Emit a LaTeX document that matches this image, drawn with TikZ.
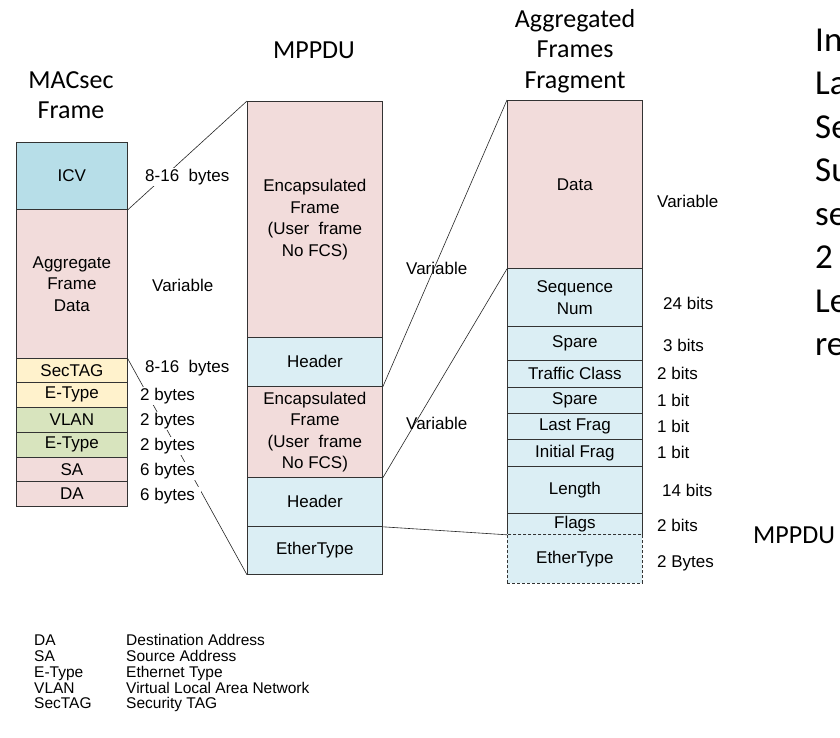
\documentclass[tikz,border=0pt]{standalone}
\usepackage{fontspec}
\setmainfont{Liberation Sans}
\newfontfamily\calibri{Carlito}

\definecolor{pinkfill}{RGB}{242,220,219}
\definecolor{bluefill}{RGB}{219,238,244}
\definecolor{icvfill}{RGB}{183,222,232}
\definecolor{yellowfill}{RGB}{255,242,204}
\definecolor{greenfill}{RGB}{216,228,190}

\newcommand\lbl{\fontsize{17}{21.5}\selectfont}
\newcommand\ttl{\calibri\fontsize{26}{30.5}\selectfont}

\tikzset{
  field/.style={draw=black!80, line width=0.8pt, anchor=north west, inner sep=0pt, align=center, font=\lbl},
  leftcol/.style={field, minimum width=111pt},
  widecol/.style={field, minimum width=135pt},
  link/.style={line width=0.6pt, black!85},
  sizelbl/.style={anchor=west, inner xsep=0pt, inner ysep=1pt, font=\lbl},
  sizecut/.style={sizelbl, fill=white, inner xsep=6pt},
  title/.style={align=center, font=\ttl},
  legend/.style={anchor=base west, inner sep=0pt, font=\fontsize{15.5}{18}\selectfont},
  bigtxt/.style={anchor=base west, inner sep=0pt, font=\calibri\fontsize{35}{42}\selectfont},
}

\begin{document}
\begin{tikzpicture}[x=1pt, y=-1pt]
  \useasboundingbox[fill=white] (0,0) rectangle (840,737);

  % column titles
  \node[title] (ttlmacsec) at (71,95) {MACsec\\Frame};
  \node[title] (ttlmppdu) at (314,50) {MPPDU};
  \node[title] (ttlagg) at (575,51) {Aggregated\\Frames\\Fragment};

  % MACsec frame
  \node[leftcol, fill=icvfill, minimum height=67pt] (icv) at (16,142) {ICV};
  \node[leftcol, fill=pinkfill, minimum height=149pt] (agg) at (16,209) {Aggregate\\Frame\\Data};
  \node[leftcol, fill=yellowfill, minimum height=24pt] (sectag) at (16,358) {SecTAG};
  \node[leftcol, fill=yellowfill, minimum height=25pt] (etypeA) at (16,382) {E-Type};
  \node[leftcol, fill=greenfill, minimum height=25pt] (vlan) at (16,407) {VLAN};
  \node[leftcol, fill=greenfill, minimum height=25pt] (etypeB) at (16,432) {E-Type};
  \node[leftcol, fill=pinkfill, minimum height=24pt] (sa) at (16,457) {SA};
  \node[leftcol, fill=pinkfill, minimum height=25pt] (da) at (16,481) {DA};

  % MPPDU
  \node[widecol, fill=pinkfill, minimum height=236pt] (encapA) at (247,101) {Encapsulated\\Frame\\(User~~frame\\No FCS)};
  \node[widecol, fill=bluefill, minimum height=49pt] (hdrA) at (247,337) {Header};
  \node[widecol, fill=pinkfill, minimum height=91pt] (encapB) at (247,386) {Encapsulated\\Frame\\(User~~frame\\No FCS)};
  \node[widecol, fill=bluefill, minimum height=49pt] (hdrB) at (247,477) {Header};
  \node[widecol, fill=bluefill, minimum height=48pt] (ethtype) at (247,526) {EtherType};

  % aggregated frames fragment
  \node[widecol, fill=pinkfill, minimum height=168pt] (data) at (507,100) {Data};
  \node[widecol, fill=bluefill, minimum height=58pt] (seqnum) at (507,268) {Sequence\\Num};
  \node[widecol, fill=bluefill, minimum height=34pt] (spareA) at (507,326) {Spare};
  \node[widecol, fill=bluefill, minimum height=27pt] (tclass) at (507,360) {Traffic Class};
  \node[widecol, fill=bluefill, minimum height=26pt] (spareB) at (507,387) {Spare};
  \node[widecol, fill=bluefill, minimum height=26pt] (lastfrag) at (507,413) {Last Frag};
  \node[widecol, fill=bluefill, minimum height=27pt] (initfrag) at (507,439) {Initial Frag};
  \node[widecol, fill=bluefill, minimum height=47pt] (length) at (507,466) {Length};
  \node[widecol, fill=bluefill, minimum height=21pt] (flags) at (507,513) {Flags};
  \node[widecol, fill=bluefill, minimum height=49pt, dash pattern=on 3pt off 2pt] (ethdash) at (507,534) {EtherType};

  % expansion lines
  \draw[link] (icv.south east) -- (encapA.north west);
  \draw[link] (agg.south east) -- (ethtype.south west);
  \draw[link] (hdrA.south east) -- (data.north west);
  \draw[link] (encapB.south east) -- (data.south west);
  \draw[link] (hdrB.south east) -- (flags.south west);

  % field sizes
  \node[sizecut] (szicv) at (139,177) {8-16~~bytes};
  \node[sizecut] (szagg) at (146,285) {Variable};
  \node[sizecut] (szsectag) at (139,368) {8-16~~bytes};
  \node[sizecut] (szetypeA) at (134,396) {2 bytes};
  \node[sizecut] (szvlan) at (134,421) {2 bytes};
  \node[sizecut] (szetypeB) at (134,446) {2 bytes};
  \node[sizecut] (szsa) at (134,471) {6 bytes};
  \node[sizecut] (szda) at (134,496) {6 bytes};

  \node[sizelbl] (szencapA) at (406,268) {Variable};
  \node[sizelbl] (szencapB) at (406,423) {Variable};

  \node[sizelbl] (szdata) at (657,201) {Variable};
  \node[sizelbl] (szseq) at (663,303) {24 bits};
  \node[sizelbl] (szspareA) at (663,345) {3 bits};
  \node[sizelbl] (sztclass) at (657,373) {2 bits};
  \node[sizelbl] (szspareB) at (657,400) {1 bit};
  \node[sizelbl] (szlast) at (657,426) {1 bit};
  \node[sizelbl] (szinit) at (657,452) {1 bit};
  \node[sizelbl] (szlength) at (662,490) {14 bits};
  \node[sizelbl] (szflags) at (657,525) {2 bits};
  \node[sizelbl] (szeth) at (657,563) {2 Bytes};

  % abbreviations
  \foreach \ab/\full [count=\i] in {DA/Destination Address, SA/Source Address,
      E-Type/Ethernet Type, VLAN/Virtual Local Area Network, SecTAG/Security TAG}{
    \node[legend] (abbr\i) at (34,630+15.75*\i) {\ab};
    \node[legend] (full\i) at (126,630+15.75*\i) {\full};
  }

  % text running off the right edge
  \node[anchor=west, inner sep=0pt, font=\ttl] (mppdu) at (753,535) {MPPDU};
  \begin{scope}
    \clip (0,0) rectangle (840,737);
    \foreach \w [count=\i] in {In,La,Se,Su,se,2,Le,re}
      \node[bigtxt] (side\i) at (815,7.5+43.5*\i) {\w};
  \end{scope}
\end{tikzpicture}
\end{document}
